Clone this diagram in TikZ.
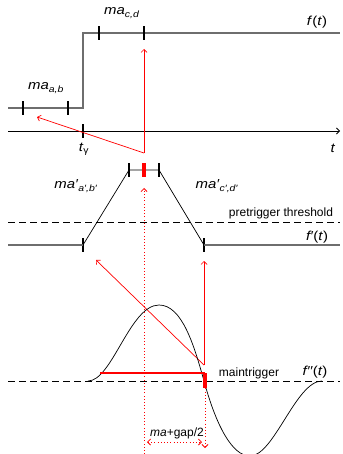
\documentclass[tikz,border=0pt]{standalone}
\usepackage{fontspec}
\setmainfont{Liberation Sans}
\usepackage{tikz}
\usetikzlibrary{arrows.meta,calc}
\definecolor{siggray}{RGB}{110,110,110}
\newcommand{\wide}[1]{\scalebox{1.15}[1]{#1}}

\begin{document}
\begin{tikzpicture}[
  x=1pt,y=-1pt,
  sig/.style={draw=siggray,line width=1.3pt},
  ramp/.style={draw=black,line width=0.7pt},
  tickmark/.style={rectangle,fill=black,inner sep=0pt,minimum width=1.6pt,minimum height=14pt},
  redtick/.style={rectangle,fill=red,inner sep=0pt,minimum width=3.2pt,minimum height=14pt},
  redarr/.style={-{Straight Barb[length=3pt,width=6pt]},draw=red,line width=0.7pt},
  reddot/.style={draw=red,line width=0.8pt,dash pattern=on 0.8pt off 2.4pt},
  thres/.style={draw=black,line width=0.8pt,dash pattern=on 7pt off 4pt},
  lbl/.style={font=\fontsize{13}{15}\selectfont,inner sep=0pt},
  smalllbl/.style={font=\fontsize{12}{14}\selectfont,inner sep=0pt}
]
\useasboundingbox (0,0) rectangle (342,454);

% --- f(t) and time axis
\coordinate (f0) at (8,108);
\coordinate (fstep) at (83,108);
\coordinate (fend) at (340,33);
\draw[sig] (f0) -- (fstep) |- (fend);
\node[tickmark] (tab1) at (23,108) {};
\node[tickmark] (tab2) at (68,108) {};
\node[tickmark] (tcd1) at (99,33) {};
\node[tickmark] (tcd2) at (144,33) {};
\node[lbl] (mab) at (46,88) {\wide{\textit{ma}\textsubscript{\textit{a,b}}}};
\node[lbl] (mcd) at (122,13) {\wide{\textit{ma}\textsubscript{\textit{c,d}}}};
\node[lbl] (ft) at (317,22) {\wide{\textit{f}(\textit{t})}};

\coordinate (ax0) at (8,131);
\coordinate (ax1) at (340,131);
\draw[line width=0.8pt,-{Straight Barb[length=3pt,width=6pt]}] (ax0) -- (ax1);
\node[tickmark] (tgam) at (83,131) {};
\node[lbl] (tglbl) at (84,149) {\wide{\textit{t}\textsubscript{γ}}};
\node[lbl] (tlbl) at (333,148) {\wide{\textit{t}}};

\coordinate (rt) at (144,153);
\coordinate (rtl) at (37,117);
\draw[redarr] (rt) -- (rtl);
\draw[redarr] (rt) -- ($(tcd2)+(0,16)$);

% --- f'(t)
\coordinate (m0) at (8,245);
\coordinate (mend) at (340,245);
\node[tickmark] (ma) at (83,245) {};
\node[tickmark] (mb) at (129,170) {};
\node[tickmark] (mc) at (159,170) {};
\node[tickmark] (md) at (204,245) {};
\draw[sig] (m0) -- (ma.center);
\draw[sig] (md.center) -- (mend);
\draw[ramp] (ma.center) -- (mb.center) -- (mc.center) -- (md.center);
\node[redtick] (mtick) at (144,170) {};
\draw[thres] (8,222) -- (340,222);
\node[smalllbl] (pre) at (281,213) {pretrigger threshold};
\node[lbl] (mabp) at (76,186) {\wide{\textit{ma′}\textsubscript{\textit{a′,b′}}}};
\node[lbl] (mcdp) at (217,186) {\wide{\textit{ma′}\textsubscript{\textit{c′,d′}}}};
\node[lbl] (fpt) at (317,237) {\wide{\textit{f′}(\textit{t})}};

\coordinate (rm) at (204,365);
\coordinate (rml) at (96,260);
\draw[redarr] (rm) -- (rml);
\draw[redarr] (rm) -- ($(md)+(0,16)$);

% --- f''(t)
\draw[thres] (8,381) -- (340,381);
\draw[line width=0.7pt] (88,381) .. controls (112,381) and (130,305) .. (159,305)
  .. controls (182,305) and (194,345) .. (204,381)
  .. controls (216,425) and (232,456) .. (250,456)
  .. controls (274,456) and (296,381) .. (322,381);
\coordinate (mt0) at (100,373);
\coordinate (mt1) at (205,373);
\draw[red,line width=2pt] (mt0) -- (mt1);
\node[rectangle,fill=red,inner sep=0pt,minimum width=3.5pt,minimum height=15pt,anchor=north] (mtbar) at (205,373) {};
\node[smalllbl] (mtlbl) at (249,373) {maintrigger};
\node[lbl] (fppt) at (315,372) {\wide{\textit{f′′}(\textit{t})}};

% --- dotted guides
\coordinate (dbot) at (144,454);
\draw[reddot,-{Straight Barb[length=3pt,width=6pt]}] (dbot) -- ($(mtick)+(0,18)$);
\coordinate (dend) at (205,448);
\draw[reddot,-{Straight Barb[length=3pt,width=6pt]}] (mtbar.south) -- (dend);
\coordinate (gl) at (147,442);
\coordinate (gr) at (202,442);
\draw[reddot,{Straight Barb[length=3pt,width=6pt]}-{Straight Barb[length=3pt,width=6pt]}] (gl) -- (gr);
\node[smalllbl] (gaplbl) at (177,433) {\textit{ma}+gap/2};
\end{tikzpicture}
\end{document}
